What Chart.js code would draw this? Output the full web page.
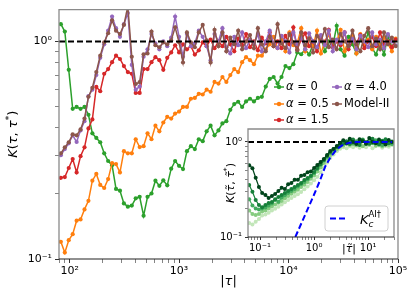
<!DOCTYPE html>
<html>
<head>
<meta charset="utf-8">
<script src="https://cdn.jsdelivr.net/npm/chart.js@4.4.1/dist/chart.umd.min.js"></script>
<style>
  html, body { margin: 0; padding: 0; background: #fff; }
  #wrap { position: relative; width: 415px; height: 297px; }
  #main { position: absolute; left: 0; top: 0; }
  #inset { position: absolute; left: 200px; top: 118px; }
</style>
</head>
<body>
<div id="wrap">
  <canvas id="main" width="415" height="297"></canvas>
  <canvas id="inset" width="205" height="145"></canvas>
</div>
<script>
Chart.defaults.font.family = "'DejaVu Sans', sans-serif";
Chart.defaults.color = '#000';

// ---- main panel data ----
const tau = [83.2, 90.4, 98.2, 106.7, 115.9, 125.9, 136.8, 148.6, 161.4, 175.4, 190.5, 207, 224.9, 244.3, 265.5, 288.4, 313.3, 340.4, 369.8, 401.8,
  436.5, 474.2, 515.2, 559.8, 608.1, 660.7, 717.8, 779.8, 847.2, 920.4, 1000, 1086, 1180, 1282, 1393, 1514, 1644, 1786, 1941, 2109,
  2291, 2489, 2704, 2938, 3192, 3467, 3767, 4093, 4446, 4831, 5248, 5702, 6194, 6730, 7311, 7943, 8630, 9376, 10186, 11066,
  12023, 13062, 14191, 15417, 16749, 18197, 19770, 21478, 23335, 25351, 27542, 29923, 32509, 35318, 38371, 41687, 45290, 49204, 53456, 58076,
  63096, 68549, 74473, 80910, 87902, 95499];

const kAlpha0 = [1.2, 1.11, 0.74, 0.49, 0.5, 0.49, 0.5, 0.46, 0.378, 0.36,
  0.344, 0.306, 0.282, 0.27, 0.21, 0.206, 0.18, 0.174, 0.176, 0.19,
  0.193, 0.158, 0.193, 0.2, 0.229, 0.217, 0.23, 0.218, 0.26, 0.282,
  0.268, 0.259, 0.313, 0.33, 0.32, 0.355, 0.348, 0.386, 0.41, 0.37,
  0.39, 0.42, 0.43, 0.485, 0.515, 0.528, 0.5, 0.53, 0.545, 0.53,
  0.55, 0.556, 0.62, 0.672, 0.686, 0.64, 0.686, 0.77, 0.754, 0.786,
  0.89, 0.873, 0.92, 0.87, 0.97, 0.93, 1.05, 0.9, 1.0, 0.95,
  1.18, 0.92, 0.86, 1.05, 0.97, 0.88, 1.03, 0.96, 1.1, 0.93,
  0.87, 1.0, 0.87, 1.06, 0.94, 1.02];

const kAlpha05 = [0.12, 0.107, 0.122, 0.13, 0.15, 0.152, 0.169, 0.185, 0.229, 0.246,
  0.219, 0.212, 0.233, 0.276, 0.273, 0.25, 0.313, 0.306, 0.306, 0.355,
  0.327, 0.33, 0.378, 0.355, 0.41, 0.386, 0.424, 0.45, 0.442, 0.466,
  0.476, 0.5, 0.5, 0.545, 0.55, 0.574, 0.57, 0.6, 0.587, 0.651,
  0.64, 0.686, 0.651, 0.7, 0.746, 0.723, 0.803, 0.846, 0.82, 0.786,
  0.86, 0.86, 0.92, 0.97, 1.05, 0.93, 1.02, 0.9, 1.1, 0.96,
  0.98, 1.15, 0.9, 1.04, 0.95, 1.12, 0.88, 1.0, 1.07, 0.94,
  1.0, 1.13, 0.9, 1.0, 1.06, 0.88, 1.08, 0.97, 1.02, 0.92,
  1.05, 0.95, 1.04, 0.98, 0.9, 1.03];

const kAlpha15 = [0.236, 0.238, 0.262, 0.288, 0.25, 0.297, 0.326, 0.398, 0.438, 0.618,
  0.59, 0.71, 0.746, 0.803, 0.86, 0.83, 0.77, 0.723, 0.71, 0.58,
  0.58, 0.746, 0.746, 0.803, 0.846, 0.82, 0.74, 0.84, 0.89, 0.96,
  0.89, 0.97, 0.92, 0.95, 0.87, 0.91, 0.99, 0.95, 1.02, 0.93,
  1.0, 0.95, 1.05, 0.97, 0.9, 1.03, 0.96, 1.08, 0.94, 1.0,
  0.91, 1.04, 0.98, 1.1, 0.95, 1.0, 0.93, 1.06, 0.97, 1.16,
  0.92, 1.02, 1.09, 0.95, 1.0, 0.9, 1.05, 0.97, 1.13, 0.94,
  1.0, 0.96, 1.1, 0.92, 1.02, 0.98, 1.07, 0.93, 1.0, 1.05,
  0.95, 1.1, 0.97, 1.0, 0.94, 1.02];

const kAlpha40 = [0.3, 0.32, 0.34, 0.37, 0.345, 0.39, 0.43, 0.56, 0.6, 0.7,
  0.84, 0.97, 1.12, 1.3, 1.15, 1.05, 1.2, 1.35, 0.78, 0.6,
  0.62, 0.85, 0.92, 1.08, 0.98, 0.92, 1.0, 0.95, 1.04, 1.3,
  1.05, 0.85, 1.08, 0.95, 0.98, 1.12, 1.05, 0.95, 0.82, 1.08,
  1.0, 1.15, 0.94, 0.88, 1.05, 0.96, 1.1, 0.93, 1.02, 0.97,
  1.08, 0.9, 1.0, 1.12, 0.98, 0.93, 1.06, 1.0, 0.89, 1.1,
  0.97, 1.04, 0.92, 1.09, 1.0, 0.94, 1.07, 0.96, 1.12, 0.9,
  1.02, 0.98, 1.1, 0.95, 1.03, 0.92, 1.06, 1.0, 0.94, 1.1,
  0.97, 1.02, 0.93, 1.08, 1.0, 0.96];

const kModel2 = [0.306, 0.326, 0.344, 0.374, 0.37, 0.394, 0.442, 0.556, 0.612, 0.723,
  0.86, 0.99, 1.09, 1.25, 1.12, 1.08, 1.19, 1.45, 0.85, 0.637,
  0.65, 0.873, 0.88, 1.11, 0.96, 0.94, 0.99, 0.97, 1.01, 1.16,
  0.99, 0.8, 1.1, 0.99, 0.94, 1.1, 1.19, 1.01, 0.8, 1.13,
  0.95, 1.1, 0.9, 1.04, 0.97, 1.12, 0.92, 1.0, 1.07, 0.93,
  1.15, 0.97, 0.9, 1.05, 0.95, 1.2, 0.98, 0.93, 1.08, 0.99,
  0.91, 1.1, 0.96, 1.03, 0.89, 1.06, 1.0, 1.14, 0.94, 1.02,
  0.92, 1.08, 1.0, 0.95, 1.12, 0.97, 0.9, 1.06, 1.15, 0.95,
  1.03, 0.92, 1.1, 0.97, 1.04, 0.95];

const seriesLabels = ['α = 0', 'α = 0.5', 'α = 1.5', 'α = 4.0', 'Model-II'];
const seriesColors = ['#2ca02c', '#ff7f0e', '#d62728', '#9467bd', '#8c564b'];
const refLevel = 1;

const xMajor = [100, 1000, 10000, 100000];
const xMajorLabels = ['10²', '10³', '10⁴', '10⁵'];
const yMajor = [0.1, 1];
const yMajorLabels = ['10⁻¹', '10⁰'];

// ---- inset data ----
const tauTilde = [0.0631, 0.0724, 0.0832, 0.0955, 0.1096, 0.1259, 0.1445, 0.166, 0.1905, 0.2188,
  0.2512, 0.2884, 0.3311, 0.3802, 0.4365, 0.5012, 0.5754, 0.6607, 0.7586, 0.871,
  1.0, 1.148, 1.318, 1.514, 1.738, 1.995, 2.291, 2.63, 3.02, 3.467,
  3.981, 4.571, 5.248, 6.026, 6.918, 7.943, 9.12, 10.47, 12.02, 13.8,
  15.85, 18.2, 20.89, 23.99, 27.54];

const inset1 = [0.57, 0.53, 0.42, 0.336, 0.29, 0.277, 0.257, 0.27, 0.284, 0.305,
  0.33, 0.32, 0.36, 0.37, 0.4, 0.4, 0.44, 0.45, 0.48, 0.49,
  0.532, 0.573, 0.616, 0.663, 0.73, 0.804, 0.844, 0.908, 0.976, 1.04,
  0.97, 1.08, 1.0, 0.95, 1.07, 1.02, 0.96, 1.1, 1.0, 0.97,
  1.06, 1.0, 0.94, 1.05, 1.0];
const inset2 = [0.353, 0.3, 0.245, 0.217, 0.206, 0.217, 0.228, 0.233, 0.25, 0.263,
  0.277, 0.29, 0.305, 0.32, 0.336, 0.353, 0.37, 0.398, 0.418, 0.44,
  0.483, 0.532, 0.587, 0.646, 0.712, 0.785, 0.844, 0.886, 0.93, 0.97,
  1.02, 0.95, 1.06, 0.98, 0.93, 1.04, 1.0, 0.96, 1.08, 0.99,
  0.94, 1.03, 1.07, 0.97, 1.01];
const inset3 = [0.25, 0.215, 0.2, 0.195, 0.2, 0.205, 0.215, 0.225, 0.245, 0.235,
  0.26, 0.275, 0.29, 0.305, 0.32, 0.34, 0.36, 0.38, 0.405, 0.435,
  0.47, 0.52, 0.575, 0.64, 0.7, 0.77, 0.83, 0.88, 0.92, 0.96,
  0.99, 1.05, 0.96, 1.02, 0.97, 1.06, 0.95, 1.0, 0.97, 1.04,
  1.0, 0.93, 1.02, 0.98, 0.95];
const inset4 = [0.19, 0.175, 0.17, 0.175, 0.185, 0.19, 0.2, 0.21, 0.22, 0.23,
  0.24, 0.255, 0.27, 0.285, 0.3, 0.315, 0.335, 0.355, 0.38, 0.41,
  0.445, 0.49, 0.54, 0.6, 0.67, 0.73, 0.79, 0.84, 0.89, 0.92,
  0.95, 0.93, 0.98, 0.92, 0.96, 0.9, 0.97, 0.94, 1.0, 0.92,
  0.96, 0.9, 0.95, 0.93, 0.97];
const inset5 = [0.14, 0.135, 0.145, 0.155, 0.168, 0.172, 0.18, 0.19, 0.198, 0.208,
  0.22, 0.232, 0.245, 0.258, 0.27, 0.282, 0.298, 0.318, 0.34, 0.365,
  0.395, 0.43, 0.48, 0.54, 0.61, 0.68, 0.74, 0.8, 0.85, 0.88,
  0.86, 0.9, 0.88, 0.93, 0.87, 0.91, 0.88, 0.93, 0.86, 0.9,
  0.92, 0.87, 0.91, 0.89, 0.93];
const insetColors = ['#00441b', '#17803a', '#41ab5d', '#86cc80', '#c2e6b9'];

const kcX = [0.45, 0.6, 0.8, 1.0, 1.3, 1.6, 2.0, 2.5, 3.0, 3.5, 4.5, 6, 10, 27.5];
const kcY = [0.1, 0.145, 0.21, 0.28, 0.4, 0.55, 0.69, 0.81, 0.89, 0.94, 0.98, 1, 1, 1];

const ixMajor = [0.1, 1, 10];
const ixMajorLabels = ['10⁻¹', '10⁰', '10¹'];

// ---- helpers ----
const zip = (xs, ys) => xs.map((x, i) => ({ x, y: ys[i] }));

function logTicks(lo, hi, majors) {
  const out = [];
  for (let e = Math.floor(Math.log10(lo)); e <= Math.ceil(Math.log10(hi)); e++) {
    for (let m = 1; m <= 9; m++) {
      const v = +(m * Math.pow(10, e)).toPrecision(6);
      if (v >= lo && v <= hi) out.push({ value: v, major: majors.includes(v) });
    }
  }
  return out;
}

function fontOf(p, size) {
  const s = (p.sup || p.sub) ? size * 0.7 : size;
  return (p.it ? 'italic ' : '') + s + "px 'DejaVu Sans'";
}

function drawRich(ctx, parts, x, y, size) {
  let w = 0;
  parts.forEach(p => { ctx.font = fontOf(p, size); w += ctx.measureText(p.t).width; });
  let cx = x - w / 2;
  ctx.textBaseline = 'middle';
  ctx.textAlign = 'left';
  parts.forEach(p => {
    ctx.font = fontOf(p, size);
    const dy = p.sup ? -size * 0.35 : (p.sub ? size * 0.25 : 0);
    ctx.fillText(p.t, cx, y + dy);
    cx += ctx.measureText(p.t).width;
  });
}

function drawFrame(ctx, a) {
  ctx.save();
  ctx.strokeStyle = '#8a8a8a';
  ctx.lineWidth = 1.3;
  ctx.beginPath();
  ctx.moveTo(a.left, a.bottom); ctx.lineTo(a.left, a.top);
  ctx.lineTo(a.right, a.top); ctx.lineTo(a.right, a.bottom);
  ctx.stroke();
  ctx.strokeStyle = '#222';
  ctx.lineWidth = 1.1;
  ctx.beginPath();
  ctx.moveTo(a.left, a.bottom); ctx.lineTo(a.right, a.bottom);
  ctx.stroke();
  ctx.restore();
}

function hLine(ctx, a, py, color, dash) {
  ctx.save();
  ctx.strokeStyle = color;
  ctx.lineWidth = 2;
  ctx.setLineDash(dash);
  ctx.beginPath();
  ctx.moveTo(a.left, py); ctx.lineTo(a.right, py);
  ctx.stroke();
  ctx.restore();
}

function logAxis(min, max, majors, labels, fitKey, fitVal, fontSize, pad, tickLen) {
  return {
    type: 'logarithmic', min, max,
    afterBuildTicks: s => { s.ticks = logTicks(min, max, majors); },
    afterFit: s => { s[fitKey] = fitVal; },
    ticks: {
      autoSkip: false, maxRotation: 0, padding: pad, color: '#000',
      font: { size: fontSize },
      callback: v => { const i = majors.indexOf(v); return i >= 0 ? labels[i] : ''; }
    },
    grid: {
      drawOnChartArea: false, tickLength: tickLen, color: '#333',
      lineWidth: c => (c.tick && c.tick.major) ? 1 : 0.6
    },
    border: { display: false }
  };
}

// ---- main chart ----
const mainSeries = [kAlpha0, kAlpha05, kAlpha15, kAlpha40, kModel2];
const mainDecor = {
  id: 'mainDecor',
  afterDatasetsDraw(chart) {
    const a = chart.chartArea;
    hLine(chart.ctx, a, chart.scales.y.getPixelForValue(refLevel), '#000', [6, 3]);
  },
  afterDraw(chart) {
    const ctx = chart.ctx, a = chart.chartArea;
    drawFrame(ctx, a);
    ctx.save();
    ctx.fillStyle = '#000';
    drawRich(ctx, [{ t: '|' }, { t: 'τ', it: 1 }, { t: '|' }], (a.left + a.right) / 2, 282, 13);
    ctx.translate(14, (a.top + a.bottom) / 2);
    ctx.rotate(-Math.PI / 2);
    drawRich(ctx, [{ t: 'K', it: 1 }, { t: '(' }, { t: 'τ', it: 1 }, { t: ', ' }, { t: 'τ', it: 1 }, { t: '*', sup: 1 }, { t: ')' }], 0, 0, 13);
    ctx.restore();

    // legend, two columns
    const cols = [274, 332], rows = [87, 104, 120];
    seriesLabels.forEach((lab, i) => {
      const hx = cols[i < 3 ? 0 : 1], hy = rows[i < 3 ? i : i - 3];
      ctx.save();
      ctx.strokeStyle = seriesColors[i];
      ctx.fillStyle = seriesColors[i];
      ctx.lineWidth = 1.5;
      ctx.beginPath(); ctx.moveTo(hx, hy); ctx.lineTo(hx + 10, hy); ctx.stroke();
      ctx.beginPath(); ctx.arc(hx + 5, hy, 2.2, 0, Math.PI * 2); ctx.fill();
      ctx.fillStyle = '#000';
      ctx.textBaseline = 'middle';
      let tx = hx + 12;
      if (lab.startsWith('α')) {
        ctx.font = "italic 11.5px 'DejaVu Sans'";
        ctx.fillText('α', tx, hy);
        tx += ctx.measureText('α').width;
        ctx.font = "11.5px 'DejaVu Sans'";
        ctx.fillText(lab.slice(1), tx, hy);
      } else {
        ctx.font = "11.5px 'DejaVu Sans'";
        ctx.fillText(lab, tx, hy);
      }
      ctx.restore();
    });
  }
};

new Chart(document.getElementById('main'), {
  type: 'line',
  data: {
    datasets: mainSeries.map((ys, i) => ({
      label: seriesLabels[i],
      data: zip(tau, ys),
      borderColor: seriesColors[i],
      backgroundColor: seriesColors[i],
      pointBackgroundColor: seriesColors[i],
      borderWidth: 1.5,
      pointRadius: 2.1,
      pointBorderWidth: 0,
      tension: 0,
      order: 5 - i
    }))
  },
  options: {
    responsive: false,
    animation: false,
    events: [],
    layout: { padding: { top: 6, right: 17, left: 0, bottom: 0 } },
    plugins: { legend: { display: false }, tooltip: { enabled: false } },
    scales: {
      x: logAxis(80, 100000, xMajor, xMajorLabels, 'height', 38, 11, 2, 4),
      y: logAxis(0.1, 1.4, yMajor, yMajorLabels, 'width', 59, 11, 3, 4)
    }
  },
  plugins: [mainDecor]
});

// ---- inset chart ----
const insetSeries = [inset1, inset2, inset3, inset4, inset5];
const insetDecor = {
  id: 'insetDecor',
  beforeDraw(chart) {
    const a = chart.chartArea, ctx = chart.ctx;
    ctx.save();
    ctx.fillStyle = '#fff';
    ctx.fillRect(a.left, a.top, a.right - a.left, a.bottom - a.top);
    ctx.restore();
  },
  beforeDatasetsDraw(chart) {
    hLine(chart.ctx, chart.chartArea, chart.scales.y.getPixelForValue(refLevel), '#000', [6, 3]);
  },
  afterDraw(chart) {
    const ctx = chart.ctx, a = chart.chartArea;
    drawFrame(ctx, a);
    ctx.save();
    ctx.fillStyle = '#000';
    drawRich(ctx, [{ t: '|' }, { t: 'τ\u0303', it: 1 }, { t: '|' }], 149, 131, 11);
    ctx.save();
    ctx.translate(31, (a.top + a.bottom) / 2);
    ctx.rotate(-Math.PI / 2);
    drawRich(ctx, [{ t: 'K', it: 1 }, { t: '(' }, { t: 'τ\u0303', it: 1 }, { t: ', ' }, { t: 'τ\u0303', it: 1 }, { t: '*', sup: 1 }, { t: ')' }], 0, 0, 11);
    ctx.restore();

    // legend box
    ctx.beginPath();
    ctx.roundRect(125, 88, 63, 25, 3);
    ctx.fillStyle = 'rgba(255,255,255,0.85)';
    ctx.fill();
    ctx.strokeStyle = '#d0d0d0';
    ctx.lineWidth = 1;
    ctx.stroke();
    ctx.strokeStyle = '#0000ff';
    ctx.lineWidth = 2;
    ctx.setLineDash([6, 3]);
    ctx.beginPath(); ctx.moveTo(130, 100.5); ctx.lineTo(148, 100.5); ctx.stroke();
    ctx.setLineDash([]);
    ctx.fillStyle = '#000';
    ctx.textBaseline = 'alphabetic';
    ctx.textAlign = 'left';
    ctx.font = "italic 13px 'DejaVu Sans'";
    ctx.fillText('K', 160, 106);
    const kx = 160 + ctx.measureText('K').width;
    ctx.font = "italic 9px 'DejaVu Sans'";
    ctx.fillText('c', kx, 109);
    ctx.font = "8.5px 'DejaVu Sans'";
    ctx.fillText('AI†', kx, 99);
    ctx.restore();
  }
};

const insetData = insetSeries.map((ys, i) => ({
  data: zip(tauTilde, ys),
  borderColor: insetColors[i],
  backgroundColor: insetColors[i],
  pointBackgroundColor: insetColors[i],
  borderWidth: 1.2,
  pointRadius: 2,
  pointBorderWidth: 0,
  tension: 0,
  order: i + 1
}));
insetData.push({
  data: zip(kcX, kcY),
  borderColor: '#0000ff',
  borderWidth: 2,
  borderDash: [6, 3],
  pointRadius: 0,
  tension: 0,
  order: 0
});

new Chart(document.getElementById('inset'), {
  type: 'line',
  data: { datasets: insetData },
  options: {
    responsive: false,
    animation: false,
    events: [],
    layout: { padding: { top: 11, right: 11, left: 0, bottom: 0 } },
    plugins: { legend: { display: false }, tooltip: { enabled: false } },
    scales: {
      x: logAxis(0.06, 30, ixMajor, ixMajorLabels, 'height', 26, 10, 2, 3),
      y: logAxis(0.1, 1.37, yMajor, yMajorLabels, 'width', 48, 10, 3, 3)
    }
  },
  plugins: [insetDecor]
});
</script>
</body>
</html>
